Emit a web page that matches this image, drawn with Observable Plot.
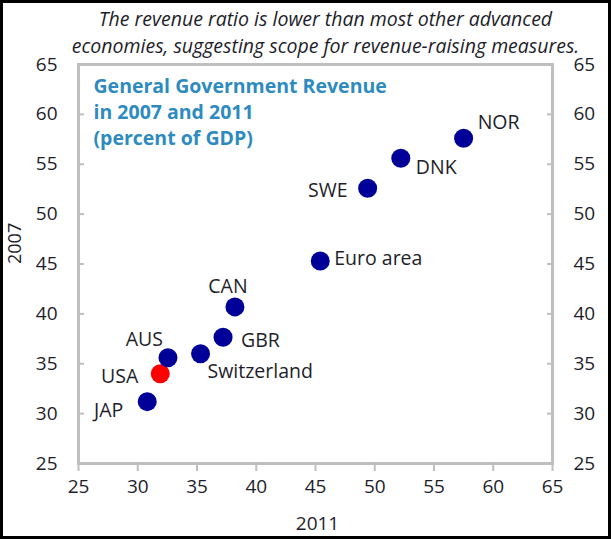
<!DOCTYPE html>
<html><head><meta charset="utf-8">
<script src="https://cdn.jsdelivr.net/npm/d3@7"></script>
<script src="https://cdn.jsdelivr.net/npm/@observablehq/plot@0.6"></script>
<style>
html,body{margin:0;padding:0;background:#fff;}
#chart{position:relative;width:611px;height:539px;overflow:hidden;}
#chart::after{content:"";position:absolute;left:0;top:0;right:0;bottom:0;border:3px solid #000;pointer-events:none;}
</style></head><body><div id="chart"></div>
<script>
// ---- data ----
const countries = ["JAP","USA","AUS","Switzerland","GBR","CAN","Euro area","SWE","DNK","NOR"];
const rev2011 = [30.8, 31.9, 32.55, 35.3, 37.2, 38.2, 45.4, 49.4, 52.2, 57.5];
const rev2007 = [31.2, 34.0, 35.6, 36.0, 37.65, 40.7, 45.3, 52.6, 55.6, 57.6];
const highlighted = ["USA"];
const axisTicks = [25, 30, 35, 40, 45, 50, 55, 60, 65];
const titleLines = ["The revenue ratio is lower than most other advanced",
                    "economies, suggesting scope for revenue-raising measures."];
const annotationLines = ["General Government Revenue", "in 2007 and 2011", "(percent of GDP)"];
const xLabel = "2011";
const yLabel = "2007";

// ---- styling / placement ----
const FONT = "'Open Sans', sans-serif";
const TEXT = "#1e1e2a";
const GRID = "#bfbfbf";
const labelPlacement = {
  "JAP": {textAnchor: "end", dx: -24, dy: 9},
  "USA": {textAnchor: "end", dx: -22, dy: 3},
  "AUS": {textAnchor: "end", dx: -5, dy: -18},
  "Switzerland": {textAnchor: "start", dx: 7, dy: 18},
  "GBR": {textAnchor: "start", dx: 18, dy: 3},
  "CAN": {textAnchor: "middle", dx: -7, dy: -20},
  "Euro area": {textAnchor: "start", dx: 14, dy: -2},
  "SWE": {textAnchor: "end", dx: -20, dy: 3},
  "DNK": {textAnchor: "start", dx: 15, dy: 9},
  "NOR": {textAnchor: "start", dx: 14, dy: -16}
};

const data = countries.map((c, i) => ({country: c, x: rev2011[i], y: rev2007[i], hi: highlighted.includes(c)}));

const labelMarks = data.map(d => Plot.text([d], {
  x: "x", y: "y", text: "country", ...labelPlacement[d.country],
  fontSize: 19.5, fill: TEXT
}));

const titleMarks = titleLines.map((t, i) => Plot.text([t], {
  frameAnchor: "top", lineAnchor: "middle", dx: 10, dy: -45 + i * 27,
  fontSize: 19.5, fontStyle: "italic", fill: TEXT
}));

const annotationMarks = annotationLines.map((t, i) => Plot.text([t], {
  frameAnchor: "top-left", lineAnchor: "middle", textAnchor: "start", dx: 15, dy: 22 + i * 26,
  fontSize: 19.5, fontWeight: "bold", fill: "#2E8BC0"
}));

const plot = Plot.plot({
  width: 611, height: 539,
  marginLeft: 78, marginRight: 59, marginTop: 64, marginBottom: 76,
  style: {fontFamily: FONT, background: "#fff", overflow: "visible"},
  x: {domain: [25, 65], label: null},
  y: {domain: [25, 65], label: null},
  marks: [
    Plot.frame({stroke: GRID, strokeWidth: 3}),
    Plot.axisX(axisTicks, {anchor: "bottom", tickSize: 8, tickPadding: 8, stroke: GRID, strokeWidth: 2, fill: TEXT, fontSize: 19, label: null}),
    Plot.axisY(axisTicks, {anchor: "left", tickSize: -6, tickPadding: 27, stroke: GRID, strokeWidth: 2, fill: TEXT, fontSize: 19, label: null}),
    Plot.axisY(axisTicks, {anchor: "right", tickSize: -6, tickPadding: 27, stroke: GRID, strokeWidth: 2, fill: TEXT, fontSize: 19, label: null}),
    Plot.dot(data, {x: "x", y: "y", r: 9.5, fill: d => d.hi ? "#ff0000" : "#000099", stroke: "none"}),
    ...labelMarks,
    ...titleMarks,
    ...annotationMarks,
    Plot.text([yLabel], {frameAnchor: "left", lineAnchor: "middle", dx: -63, rotate: -90, fontSize: 18, fill: TEXT}),
    Plot.text([xLabel], {frameAnchor: "bottom", lineAnchor: "middle", dx: 2, dy: 60, fontSize: 19, fill: TEXT})
  ]
});
document.getElementById("chart").appendChild(plot);
</script></body></html>
